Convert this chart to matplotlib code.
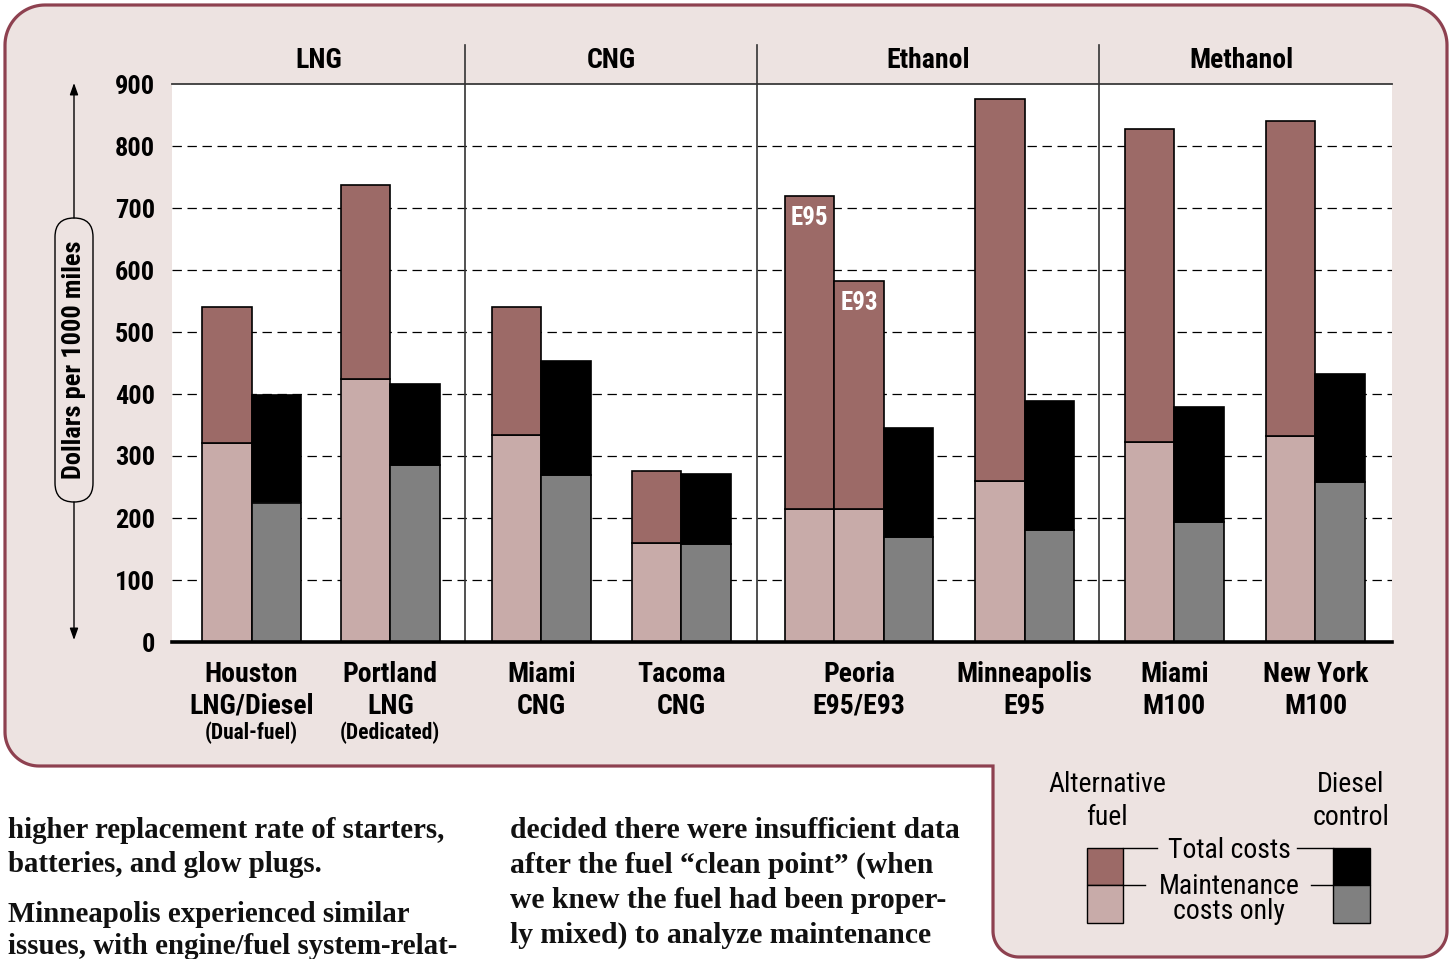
import matplotlib
matplotlib.use("Agg")
import matplotlib.pyplot as plt
from matplotlib import font_manager
from matplotlib.path import Path
from matplotlib.patches import PathPatch, FancyBboxPatch, Rectangle
from matplotlib.lines import Line2D
from matplotlib.transforms import blended_transform_factory
import numpy as np

W, H = 1452, 959

# ---------------- data ----------------
fuel_groups = ["LNG", "CNG", "Ethanol", "Methanol"]
site_names = ["Houston", "Portland", "Miami", "Tacoma", "Peoria", "Minneapolis", "Miami", "New York"]
site_fuels = ["LNG/Diesel", "LNG", "CNG", "CNG", "E95/E93", "E95", "M100", "M100"]
site_notes = ["(Dual-fuel)", "(Dedicated)", "", "", "", "", "", ""]

# alternative-fuel vehicles (Peoria ran two blends: E95 and E93)
alt_total = [[541], [737], [541], [276], [719, 583], [875], [828], [840]]
alt_maint = [[321], [424], [334], [160], [214, 214], [259], [323], [332]]
alt_tags = [[""], [""], [""], [""], ["E95", "E93"], [""], [""], [""]]

# diesel control vehicles
diesel_total = [399, 416, 454, 271, 345, 389, 379, 432]
diesel_maint = [225, 285, 270, 158, 170, 180, 193, 258]

y_ticks = [0, 100, 200, 300, 400, 500, 600, 700, 800, 900]
y_label = "Dollars per 1000 miles"

legend_alt = "Alternative\nfuel"
legend_dsl = "Diesel\ncontrol"
legend_total = "Total costs"
legend_maint = "Maintenance\ncosts only"

body_col1 = ["higher replacement rate of starters,",
             "batteries, and glow plugs.",
             "Minneapolis experienced similar",
             "issues, with engine/fuel system-relat-"]
body_col2 = ["decided there were insufficient data",
             "after the fuel \u201cclean point\u201d (when",
             "we knew the fuel had been proper-",
             "ly mixed) to analyze maintenance"]

# ---------------- layout / style ----------------
site_left = [0.61, 3.42, 6.48, 9.31, 12.41, 16.26, 19.29, 22.15]   # in bar widths
dividers = [5.93, 11.84, 18.77]
x_max = 24.70
col1_rows = [830, 864, 915, 946]
col2_rows = [830, 865, 900, 935]

PANEL = "#ede3e1"
BORDER = "#8e4150"
ALT_TOTAL = "#9c6a67"
ALT_MAINT = "#c8aba9"
DSL_TOTAL = "#000000"
DSL_MAINT = "#808080"


def pick(cands, default="DejaVu Sans"):
    names = {f.name for f in font_manager.fontManager.ttflist}
    for c in cands:
        if c in names:
            return c
    return default


SANS = pick(["Liberation Sans Narrow", "Roboto Condensed", "Open Sans Condensed", "Roboto"])
SERIF = pick(["Liberation Serif", "DejaVu Serif"])

fig = plt.figure(figsize=(W / 100, H / 100), dpi=100, facecolor="white")

# background canvas in pixel units (y grows downward)
bg = fig.add_axes([0, 0, 1, 1])
bg.set_xlim(0, W)
bg.set_ylim(H, 0)
bg.axis("off")


def arc(cx, cy, r, a0, a1, n=24):
    t = np.radians(np.linspace(a0, a1, n))
    return np.c_[cx + r * np.cos(t), cy + r * np.sin(t)]


L, T, R, B = 5, 5, 1447, 957
NX, NY = 993, 766
r1, r2, r3 = 40, 34, 26
pts = np.vstack([
    arc(L + r1, T + r1, r1, 180, 270),
    arc(R - r1, T + r1, r1, 270, 360),
    arc(R - r3, B - r3, r3, 0, 90),
    arc(NX + r3, B - r3, r3, 90, 180),
    [[NX, NY]],
    arc(L + r2, NY - r2, r2, 90, 180),
])
codes = [Path.MOVETO] + [Path.LINETO] * (len(pts) - 1)
pts = np.vstack([pts, pts[:1]])
codes.append(Path.CLOSEPOLY)
bg.add_patch(PathPatch(Path(pts, codes), facecolor=PANEL, edgecolor=BORDER, lw=2.3, zorder=0))

# ---------------- main bar axes ----------------
ax = fig.add_axes([172 / W, 1 - 642 / H, 1220 / W, 558 / H])
ax.set_facecolor("white")
ax.set_xlim(0, x_max)
ax.set_ylim(0, 900)
for s in ("left", "right"):
    ax.spines[s].set_visible(False)
ax.spines["top"].set_color("#3a3a3a")
ax.spines["top"].set_linewidth(1.3)
ax.spines["bottom"].set_color("black")
ax.spines["bottom"].set_linewidth(2.6)
ax.spines["bottom"].set_zorder(5)
ax.set_xticks([])
ax.set_yticks(y_ticks)
ax.set_yticklabels([str(v) for v in y_ticks], fontfamily=SANS, fontweight="bold", fontsize=19)
ax.tick_params(axis="y", length=0, pad=12)

for v in y_ticks[1:-1]:
    ax.axhline(v, color="black", lw=0.9, dashes=(7.5, 4.5), zorder=0.5)

bar_kw = dict(width=1.0, align="edge", edgecolor="black", linewidth=1.2, zorder=2)
for i in range(len(site_names)):
    x0 = site_left[i]
    for j, (tot, mnt) in enumerate(zip(alt_total[i], alt_maint[i])):
        x = x0 + j
        ax.bar(x, mnt, color=ALT_MAINT, **bar_kw)
        ax.bar(x, tot - mnt, bottom=mnt, color=ALT_TOTAL, **bar_kw)
        tag = alt_tags[i][j]
        if tag:
            ax.annotate(tag, (x + 0.5, tot), xytext=(0, -16), textcoords="offset points",
                        ha="center", va="center", color="white", fontfamily=SANS,
                        fontweight="bold", fontsize=18, zorder=4)
    xd = x0 + len(alt_total[i])
    ax.bar(xd, diesel_maint[i], color=DSL_MAINT, **bar_kw)
    ax.bar(xd, diesel_total[i] - diesel_maint[i], bottom=diesel_maint[i], color=DSL_TOTAL, **bar_kw)

# x in data units, y in canvas pixels
mix = blended_transform_factory(ax.transData, bg.transData)

for d in dividers:
    ax.add_line(Line2D([d, d], [45, 641], transform=mix, color="#333333", lw=1.2,
                       clip_on=False, zorder=3))

bounds = [0] + dividers + [x_max - 0.18]
for k, name in enumerate(fuel_groups):
    ax.text((bounds[k] + bounds[k + 1]) / 2, 61, name, transform=mix, ha="center", va="center",
            fontfamily=SANS, fontweight="bold", fontsize=20)

for i in range(len(site_names)):
    cx = site_left[i] + (len(alt_total[i]) + 1) / 2
    ax.text(cx, 674, site_names[i], transform=mix, ha="center", va="center",
            fontfamily=SANS, fontweight="bold", fontsize=20)
    ax.text(cx, 706, site_fuels[i], transform=mix, ha="center", va="center",
            fontfamily=SANS, fontweight="bold", fontsize=20)
    if site_notes[i]:
        ax.text(cx, 733, site_notes[i], transform=mix, ha="center", va="center",
                fontfamily=SANS, fontweight="bold", fontsize=15.5)

# ---------------- y-axis caption with arrows ----------------
bg.add_patch(FancyBboxPatch((55, 218), 38, 284, boxstyle="round,pad=0,rounding_size=19",
                            facecolor=PANEL, edgecolor="black", lw=1.0, zorder=2))
bg.text(74, 360, y_label, rotation=90, ha="center", va="center",
        fontfamily=SANS, fontweight="bold", fontsize=19, zorder=3)
arrow_kw = dict(arrowstyle="-|>,head_length=0.7,head_width=0.25", color="black", lw=1.0,
                shrinkA=0, shrinkB=0)
bg.annotate("", xy=(74, 83), xytext=(74, 218), arrowprops=arrow_kw)
bg.annotate("", xy=(74, 640), xytext=(74, 502), arrowprops=arrow_kw)

# ---------------- legend ----------------
bg.text(1107, 801, legend_alt, ha="center", va="center", fontfamily=SANS, fontsize=20,
        linespacing=1.3)
bg.text(1351, 801, legend_dsl, ha="center", va="center", fontfamily=SANS, fontsize=20,
        linespacing=1.3)
sw_kw = dict(edgecolor="black", lw=1.0, zorder=2)
bg.add_patch(Rectangle((1087, 848), 36, 37, facecolor=ALT_TOTAL, **sw_kw))
bg.add_patch(Rectangle((1087, 885), 36, 38, facecolor=ALT_MAINT, **sw_kw))
bg.add_patch(Rectangle((1333, 848), 37, 37, facecolor=DSL_TOTAL, **sw_kw))
bg.add_patch(Rectangle((1333, 885), 37, 38, facecolor=DSL_MAINT, **sw_kw))
for xa, xb, yy in [(1123, 1157, 848), (1297, 1333, 848), (1123, 1145, 885), (1311, 1333, 885)]:
    bg.plot([xa, xb], [yy, yy], color="black", lw=1.0)
bg.text(1229, 851, legend_total, ha="center", va="center", fontfamily=SANS, fontsize=20)
bg.text(1229, 899, legend_maint, ha="center", va="center", fontfamily=SANS, fontsize=20,
        linespacing=0.95)

# ---------------- running text below the chart (continues past the page edge) ----------------
for line, yy in zip(body_col1, col1_rows):
    bg.text(8, yy, line, ha="left", va="center", fontfamily=SERIF, fontweight="bold",
            fontsize=20.8, color="#111111")
for line, yy in zip(body_col2, col2_rows):
    bg.text(510, yy, line, ha="left", va="center", fontfamily=SERIF, fontweight="bold",
            fontsize=21.3, color="#111111")

fig.savefig("out.png", dpi=100, facecolor="white")
